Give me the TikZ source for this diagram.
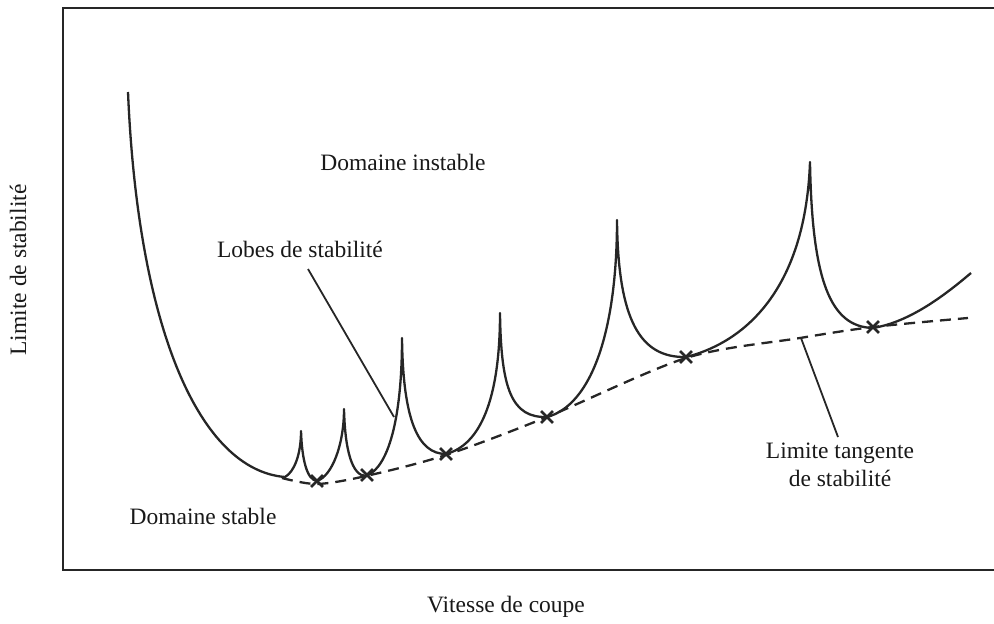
\documentclass[tikz,border=0pt]{standalone}
\usepackage{fontspec}
\setmainfont{Liberation Serif}
\usetikzlibrary{shapes.misc}
\begin{document}
\begin{tikzpicture}[x=1pt,y=-1pt,
  curve/.style={line width=2.3pt,line join=round,draw=black!85},
  tangent/.style={line width=2.3pt,draw=black!85,dash pattern=on 11pt off 7pt},
  pointer/.style={line width=1.8pt,draw=black!85},
  lbl/.style={font=\fontsize{23.5}{28}\selectfont,inner sep=0pt,text=black!90},
  starmark/.style={cross out,draw=black!85,line width=2.8pt,minimum size=9pt,inner sep=0pt}]
\useasboundingbox (0,0) rectangle (994,624);
% frame (open on the right)
\draw[line width=2pt,black!85] (994,8) -- (63,8) -- (63,570) -- (994,570);
% stability lobes
\draw[curve] (128,92) .. controls (138,330) and (200,470) .. (285,477)
  .. controls (294,472) and (301,455) .. (301,431)
  .. controls (302,460) and (307,480) .. (317,481)
  .. controls (332,476) and (344,445) .. (344,409)
  .. controls (345,450) and (352,476) .. (366,476)
  .. controls (388,468) and (402,420) .. (402,338)
  .. controls (403,420) and (418,454) .. (446,454)
  .. controls (480,445) and (500,400) .. (500,313)
  .. controls (501,390) and (512,418) .. (547,417)
  .. controls (592,405) and (617,330) .. (617,220)
  .. controls (618,320) and (640,358) .. (686,357)
  .. controls (735,345) and (805,300) .. (810,162)
  .. controls (812,280) and (830,327) .. (873,328)
  .. controls (910,322) and (945,295) .. (971,273);
% tangent limit
\draw[tangent] plot[smooth,tension=0.5] coordinates {(282,478) (317,484) (366,476) (446,455) (547,417) (686,358) (800,338) (873,327) (968,318)};
% tangent points
\node[starmark] (s1) at (317,481) {};
\node[starmark] (s2) at (367,475) {};
\node[starmark] (s3) at (446,454) {};
\node[starmark] (s4) at (547,417) {};
\node[starmark] (s5) at (686,357) {};
\node[starmark] (s6) at (873,327) {};
% labels
\node[lbl] (instable) at (403,162) {Domaine instable};
\node[lbl] (stable) at (203,516) {Domaine stable};
\node[lbl] (lobes) at (300,249) {Lobes de stabilité};
\node[lbl,align=center] (tang) at (840,465) {Limite tangente\\de stabilité};
\node[lbl,rotate=90] (ylab) at (18,270) {Limite de stabilité};
\node[lbl] (xlab) at (506,607) {Vitesse de coupe};
% pointers
\coordinate (lobeA) at (308,269);
\coordinate (lobeB) at (394,417);
\draw[pointer] (lobeA) -- (lobeB);
\coordinate (tangA) at (801,338);
\coordinate (tangB) at (838,437);
\draw[pointer] (tangA) -- (tangB);
\end{tikzpicture}
\end{document}
